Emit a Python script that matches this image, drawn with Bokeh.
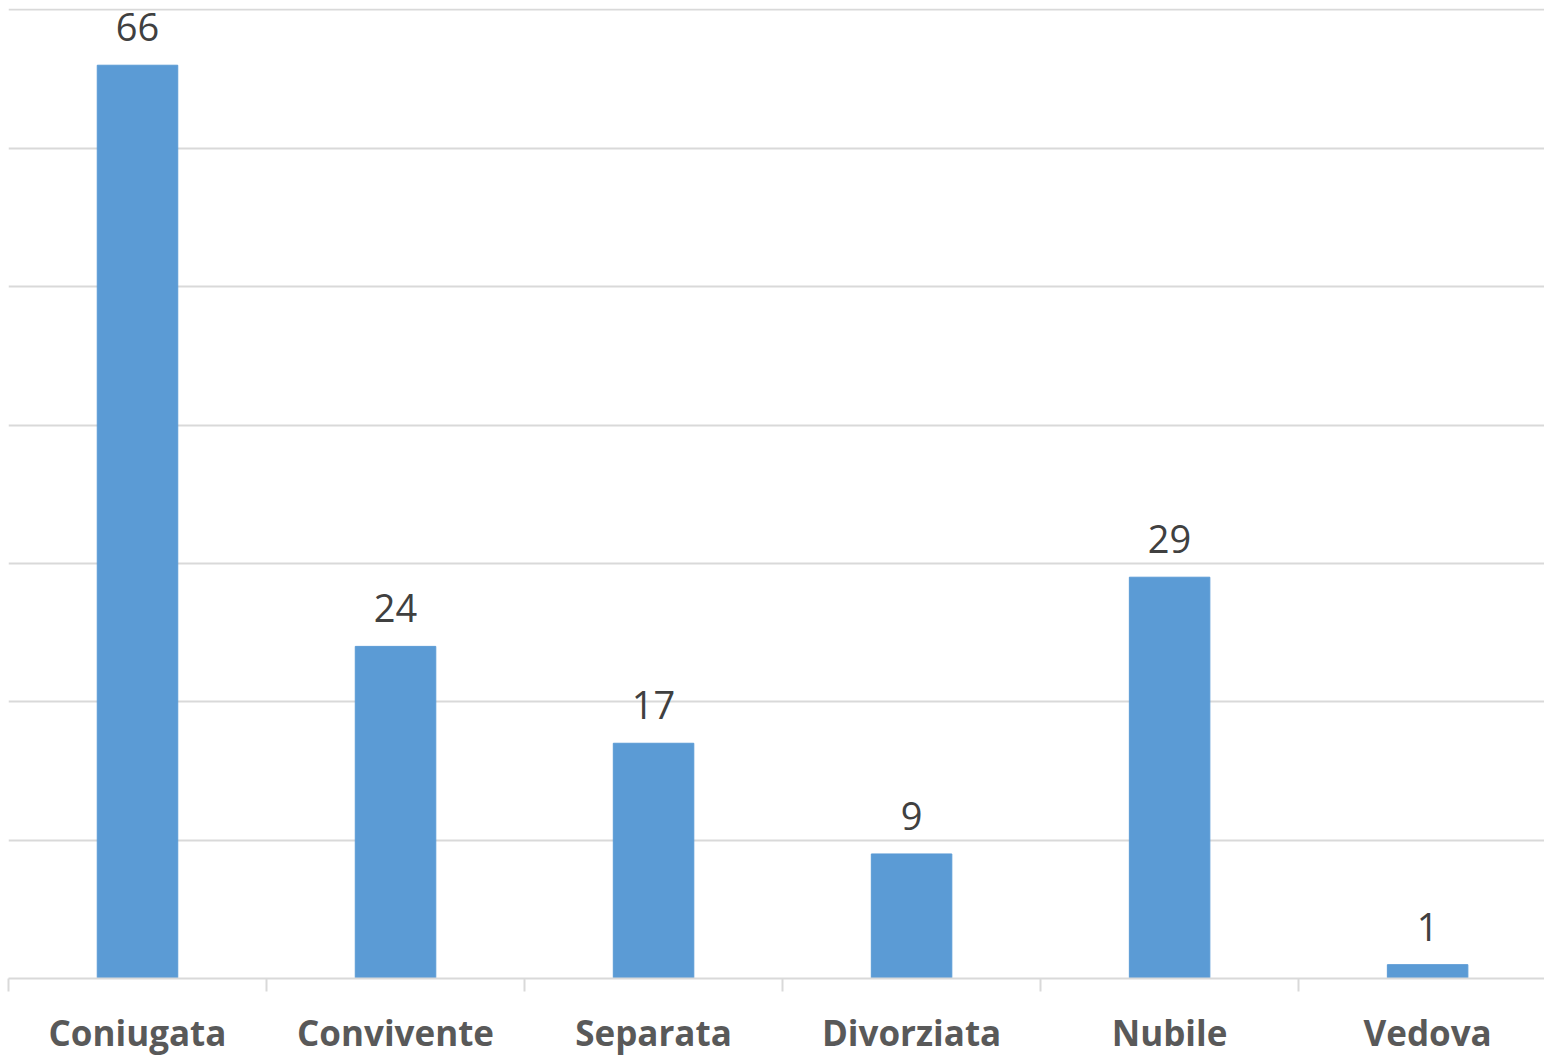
from bokeh.plotting import figure
from bokeh.models import ColumnDataSource, Range1d, FixedTicker, LabelSet
from bokeh.core.properties import value
from bokeh.embed import file_html
from bokeh.resources import INLINE

categories = ["Coniugata", "Convivente", "Separata", "Divorziata", "Nubile", "Vedova"]
counts = [66, 24, 17, 9, 29, 1]
grid_ticks = [0, 10, 20, 30, 40, 50, 60, 70]

positions = list(range(len(categories)))
source = ColumnDataSource(dict(x=positions, top=counts, label=[str(c) for c in counts]))

p = figure(width=1544, height=1058, output_backend="svg", toolbar_location=None,
           x_range=Range1d(-0.5, 5.453), y_range=Range1d(0, 70.1),
           min_border_left=8, min_border_right=0, min_border_top=8, min_border_bottom=77)
p.outline_line_color = None
p.background_fill_color = "white"
p.border_fill_color = "white"

p.vbar(x="x", top="top", width=0.312, source=source, color="#5B9BD5")

labels = LabelSet(x="x", y="top", text="label", source=source, text_align="center",
                  text_baseline="alphabetic", y_offset=24, text_font=value("Open Sans"),
                  text_font_size="38px", text_color="#404040")
p.add_layout(labels)

p.yaxis.visible = False
p.ygrid.ticker = FixedTicker(ticks=grid_ticks)
p.ygrid.grid_line_color = "#d9d9d9"
p.ygrid.grid_line_width = 2
p.xgrid.visible = False

xa = p.xaxis[0]
xa.ticker = FixedTicker(ticks=positions, minor_ticks=[i - 0.5 for i in range(len(categories) + 1)])
xa.major_label_overrides = {i: c for i, c in enumerate(categories)}
xa.major_tick_line_color = None
xa.major_tick_out = 0
xa.major_tick_in = 0
xa.minor_tick_out = 13
xa.minor_tick_in = 0
xa.minor_tick_line_color = "#d9d9d9"
xa.minor_tick_line_width = 2
xa.axis_line_color = "#d9d9d9"
xa.axis_line_width = 2
xa.major_label_text_font = "Open Sans"
xa.major_label_text_font_style = "bold"
xa.major_label_text_font_size = "35px"
xa.major_label_text_color = "#595959"
xa.major_label_standoff = 17

open("out.html", "w").write(file_html(p, INLINE))
